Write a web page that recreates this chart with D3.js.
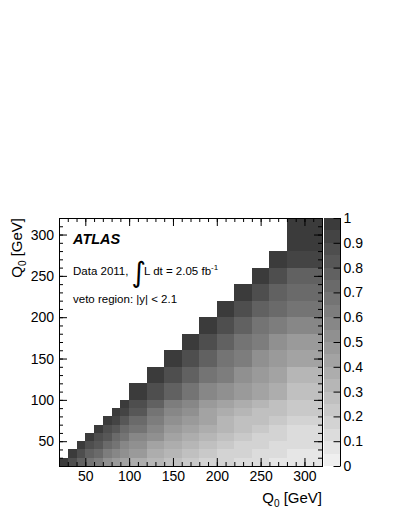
<!DOCTYPE html>
<html>
<head>
<meta charset="utf-8">
<script src="https://cdn.jsdelivr.net/npm/d3@7"></script>
<style>
    body { margin: 0; background: #fff; }
    text { font-family: "Liberation Sans", Arial, Helvetica, sans-serif; }
</style>
</head>
<body>
<svg width="399" height="516"></svg>
<script>
// Q0 bin edges (GeV), same binning on both axes
var binEdges = [20, 30, 40, 50, 60, 70, 80, 90, 100, 120, 140, 160, 180, 200, 220, 240, 260, 280, 320];

// correlation values, one row per y bin, starting at the diagonal cell
var corrRows = [
    [1.00, 0.88, 0.77, 0.67, 0.61, 0.54, 0.49, 0.44, 0.39, 0.33, 0.27, 0.22, 0.19, 0.16, 0.13, 0.11, 0.09, 0.08],
    [1.00, 0.88, 0.78, 0.70, 0.63, 0.57, 0.52, 0.46, 0.39, 0.33, 0.28, 0.23, 0.19, 0.16, 0.13, 0.11, 0.09],
    [1.00, 0.89, 0.80, 0.72, 0.65, 0.59, 0.52, 0.44, 0.38, 0.32, 0.27, 0.23, 0.19, 0.16, 0.13, 0.11],
    [1.00, 0.89, 0.80, 0.73, 0.67, 0.59, 0.50, 0.43, 0.37, 0.31, 0.26, 0.22, 0.18, 0.15, 0.13],
    [1.00, 0.89, 0.81, 0.74, 0.66, 0.56, 0.48, 0.41, 0.35, 0.30, 0.25, 0.21, 0.17, 0.14],
    [1.00, 0.90, 0.82, 0.73, 0.62, 0.53, 0.46, 0.40, 0.34, 0.29, 0.25, 0.21, 0.18],
    [1.00, 0.90, 0.80, 0.68, 0.58, 0.50, 0.44, 0.38, 0.33, 0.29, 0.25, 0.21],
    [1.00, 0.88, 0.75, 0.64, 0.56, 0.49, 0.43, 0.38, 0.33, 0.28, 0.24],
    [1.00, 0.88, 0.76, 0.67, 0.59, 0.52, 0.46, 0.40, 0.35, 0.29],
    [1.00, 0.88, 0.77, 0.68, 0.60, 0.53, 0.47, 0.41, 0.33],
    [1.00, 0.89, 0.77, 0.68, 0.60, 0.54, 0.49, 0.44],
    [1.00, 0.89, 0.76, 0.67, 0.60, 0.53, 0.48],
    [1.00, 0.88, 0.77, 0.68, 0.62, 0.58],
    [1.00, 0.89, 0.78, 0.70, 0.66],
    [1.00, 0.89, 0.79, 0.72],
    [1.00, 0.89, 0.77],
    [1.00, 0.91],
    [1.00]
];

var axisTicks = [50, 100, 150, 200, 250, 300];
var minorTicks = d3.range(20, 321, 10);
var zTicks = [0, 0.1, 0.2, 0.3, 0.4, 0.5, 0.6, 0.7, 0.8, 0.9, 1];

var svg = d3.select("svg");

var xScale = d3.scaleLinear().domain([20, 320]).range([59, 322]);
var yScale = d3.scaleLinear().domain([20, 320]).range([466, 218]);

// 20 grey levels, light -> dark
var greys = d3.quantize(d3.interpolateRgb("#efefef", "#3b3b3b"), 20);
var colorScale = d3.scaleQuantize().domain([0, 1]).range(greys);

// flatten matrix into cells
var cells = [];
corrRows.forEach(function (row, j) {
    row.forEach(function (v, k) {
        var i = j + k;
        cells.push({ x0: binEdges[i], x1: binEdges[i + 1], y0: binEdges[j], y1: binEdges[j + 1], v: v });
    });
});

svg.append("g")
    .attr("shape-rendering", "crispEdges")
    .selectAll("rect")
    .data(cells)
    .enter()
    .append("rect")
    .attr("x", d => xScale(d.x0))
    .attr("y", d => yScale(d.y1))
    .attr("width", d => xScale(d.x1) - xScale(d.x0))
    .attr("height", d => yScale(d.y0) - yScale(d.y1))
    .attr("fill", d => colorScale(Math.min(d.v, 0.9999)));

// Axes, ROOT style: ticks inside on all four sides
function styleAxis(g) {
    g.select(".domain").remove();
    g.selectAll("line").attr("stroke", "#000");
    g.selectAll("text").style("font-size", "14px").attr("fill", "#000");
}

svg.append("g").attr("transform", "translate(0,466)")
    .call(d3.axisBottom(xScale).tickValues(minorTicks).tickSize(-4).tickFormat(""))
    .call(styleAxis);
svg.append("g").attr("transform", "translate(0,466)")
    .call(d3.axisBottom(xScale).tickValues(axisTicks).tickSize(-8).tickPadding(5))
    .call(styleAxis);
svg.append("g").attr("transform", "translate(0,218)")
    .call(d3.axisTop(xScale).tickValues(minorTicks).tickSize(-4).tickFormat(""))
    .call(styleAxis);
svg.append("g").attr("transform", "translate(0,218)")
    .call(d3.axisTop(xScale).tickValues(axisTicks).tickSize(-8).tickFormat(""))
    .call(styleAxis);

svg.append("g").attr("transform", "translate(59,0)")
    .call(d3.axisLeft(yScale).tickValues(minorTicks).tickSize(-4).tickFormat(""))
    .call(styleAxis);
svg.append("g").attr("transform", "translate(59,0)")
    .call(d3.axisLeft(yScale).tickValues(axisTicks).tickSize(-8).tickPadding(5))
    .call(styleAxis);
svg.append("g").attr("transform", "translate(322,0)")
    .call(d3.axisRight(yScale).tickValues(minorTicks).tickSize(-4).tickFormat(""))
    .call(styleAxis);
svg.append("g").attr("transform", "translate(322,0)")
    .call(d3.axisRight(yScale).tickValues(axisTicks).tickSize(-8).tickFormat(""))
    .call(styleAxis);

// Frame
svg.append("rect")
    .attr("x", 59).attr("y", 218)
    .attr("width", 263).attr("height", 248)
    .attr("fill", "none")
    .attr("stroke", "#000")
    .attr("stroke-width", 1)
    .attr("shape-rendering", "crispEdges");

// Colour bar
var zScale = d3.scaleLinear().domain([0, 1]).range([466, 218]);
var steps = d3.range(20).map(i => i / 20);

svg.append("g")
    .attr("shape-rendering", "crispEdges")
    .selectAll("rect")
    .data(steps)
    .enter()
    .append("rect")
    .attr("x", 323.5)
    .attr("y", d => zScale(d + 0.05))
    .attr("width", 17)
    .attr("height", d => zScale(d) - zScale(d + 0.05))
    .attr("fill", d => colorScale(d + 0.01));

svg.append("g").attr("transform", "translate(340.5,0)")
    .call(d3.axisRight(zScale).tickValues(zTicks).tickSize(-7).tickPadding(3).tickFormat(d3.format("")))
    .call(function (g) {
        styleAxis(g);
        g.selectAll("text").attr("x", 3);
    });
svg.append("line")
    .attr("x1", 340.5).attr("x2", 340.5)
    .attr("y1", 218).attr("y2", 466)
    .attr("stroke", "#000");

// Axis titles
var xTitle = svg.append("text")
    .attr("x", 322).attr("y", 503)
    .attr("text-anchor", "end")
    .style("font-size", "15px");
xTitle.append("tspan").text("Q");
xTitle.append("tspan").attr("dy", 4).style("font-size", "10px").text("0");
xTitle.append("tspan").attr("dy", -4).text(" [GeV]");

var yTitle = svg.append("text")
    .attr("transform", "translate(22,218) rotate(-90)")
    .attr("text-anchor", "end")
    .style("font-size", "15px");
yTitle.append("tspan").text("Q");
yTitle.append("tspan").attr("dy", 4).style("font-size", "10px").text("0");
yTitle.append("tspan").attr("dy", -4).text(" [GeV]");

// Labels
svg.append("text")
    .attr("x", 73).attr("y", 243.5)
    .style("font-size", "14.5px")
    .style("font-weight", "bold")
    .style("font-style", "italic")
    .text("ATLAS");

svg.append("text")
    .attr("x", 73).attr("y", 274.5)
    .style("font-size", "11.5px")
    .text("Data 2011,");
svg.append("text")
    .attr("x", 131.5).attr("y", 281.5)
    .style("font-family", "DejaVu Sans")
    .style("font-size", "28px")
    .text("∫");
var lumi = svg.append("text")
    .attr("x", 144).attr("y", 274.5)
    .style("font-size", "11.5px");
lumi.append("tspan").text("L dt = 2.05 fb");
lumi.append("tspan").attr("dy", -5).style("font-size", "8px").text("-1");

svg.append("text")
    .attr("x", 73).attr("y", 302.5)
    .style("font-size", "11.5px")
    .text("veto region: |y| < 2.1");
</script>
</body>
</html>
